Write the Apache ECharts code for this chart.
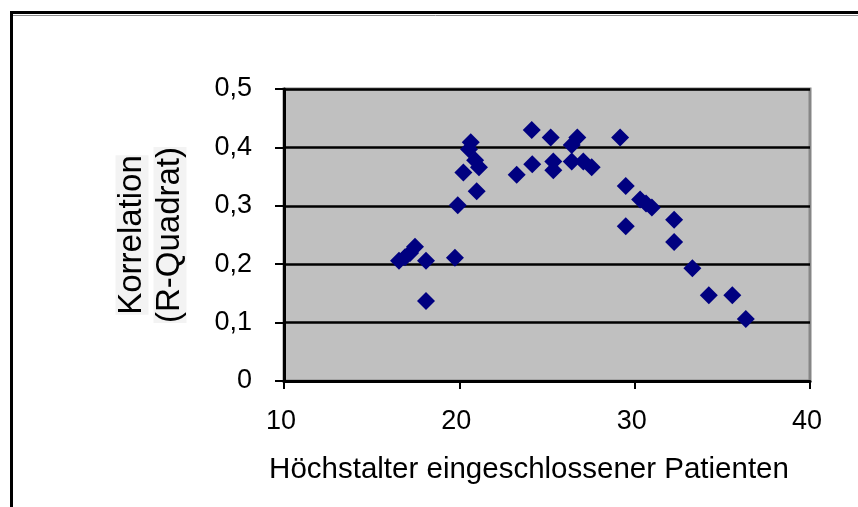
<!DOCTYPE html>
<html>
<head>
<meta charset="utf-8">
<script src="https://cdn.jsdelivr.net/npm/echarts@6/dist/echarts.min.js"></script>
<style>
  html, body { margin: 0; padding: 0; background: #ffffff; }
  #chart { width: 858px; height: 507px; }
</style>
</head>
<body>
<div id="chart"></div>
<script>
// Höchstalter der eingeschlossenen Patienten (Jahre)
const ageMax = [
  16.56, 16.90, 17.19, 17.47, 18.10, 18.10, 19.75, 19.91, 20.23, 20.65,
  20.55, 20.90, 21.12, 20.99, 23.27, 24.13, 24.16, 25.21, 25.36, 25.36,
  26.41, 26.73, 26.41, 27.07, 27.55, 29.17, 29.49, 30.31, 30.65, 30.98,
  29.49, 32.25, 32.25, 33.29, 34.23, 35.57, 36.34
];
// Korrelation (R-Quadrat)
const rSquared = [
  0.206, 0.212, 0.219, 0.230, 0.206, 0.137, 0.211, 0.301, 0.357, 0.409,
  0.397, 0.378, 0.366, 0.325, 0.353, 0.430, 0.371, 0.417, 0.376, 0.361,
  0.404, 0.417, 0.376, 0.376, 0.366, 0.417, 0.334, 0.311, 0.304, 0.297,
  0.265, 0.276, 0.238, 0.193, 0.147, 0.147, 0.106
];
const xTicks = [10, 20, 30, 40];
const yTicks = [0, 0.1, 0.2, 0.3, 0.4, 0.5];
const xTitle = 'Höchstalter eingeschlossener Patienten';
const yTitleLines = ['Korrelation', '(R-Quadrat)'];

const points = ageMax.map((x, i) => [x, rSquared[i]]);
const font = '"Liberation Sans", Arial, sans-serif';

const chart = echarts.init(document.getElementById('chart'), null, { renderer: 'canvas' });
chart.setOption({
  animation: false,
  backgroundColor: '#ffffff',
  graphic: [
    {
      type: 'rect',
      shape: { x: 11.5, y: 12.5, width: 900, height: 600 },
      style: { fill: 'none', stroke: '#000000', lineWidth: 3 },
      z: 100
    },
    {
      type: 'line',
      shape: { x1: 13, y1: 15.5, x2: 858, y2: 15.5 },
      style: { stroke: '#8a8a8a', lineWidth: 1 },
      z: 100
    }
  ],
  grid: {
    left: 284, right: 48, top: 89, bottom: 126,
    show: true,
    backgroundColor: '#c0c0c0',
    borderColor: '#868686',
    borderWidth: 3
  },
  xAxis: {
    type: 'value',
    min: xTicks[0], max: xTicks[xTicks.length - 1], interval: 10,
    name: xTitle,
    nameLocation: 'middle',
    nameGap: 74,
    nameTextStyle: { fontFamily: font, fontSize: 29.5, color: '#000', padding: [0, 36, 0, 0] },
    axisLine: { lineStyle: { color: '#000', width: 3 } },
    axisTick: { show: true, length: 8, lineStyle: { color: '#000', width: 2 } },
    axisLabel: { fontFamily: font, fontSize: 27, color: '#000', margin: 27, padding: [0, 6, 0, 0] },
    splitLine: { show: false }
  },
  yAxis: {
    type: 'value',
    min: yTicks[0], max: yTicks[yTicks.length - 1], interval: 0.1,
    name: '{a|' + yTitleLines[0] + '}\n{a|' + yTitleLines[1] + '}',
    nameLocation: 'middle',
    nameRotate: 90,
    nameGap: 95,
    nameTextStyle: {
      fontFamily: font, fontSize: 33, color: '#000',
      rich: { a: { fontFamily: font, fontSize: 33, color: '#000', lineHeight: 38, backgroundColor: '#f3f3f3' } }
    },
    axisLine: { show: true, lineStyle: { color: '#000', width: 3 } },
    axisTick: { show: true, length: 9, lineStyle: { color: '#000', width: 2 } },
    axisLabel: {
      fontFamily: font, fontSize: 27, color: '#000', margin: 32, padding: [8, 0, 0, 0],
      formatter: v => String(Math.round(v * 10) / 10).replace('.', ',')
    },
    splitLine: { show: true, lineStyle: { color: '#000', width: 2.5 } }
  },
  series: [{
    type: 'scatter',
    data: points,
    symbol: 'diamond',
    symbolSize: 18,
    itemStyle: { color: '#000080', opacity: 1 }
  }]
});
</script>
</body>
</html>
